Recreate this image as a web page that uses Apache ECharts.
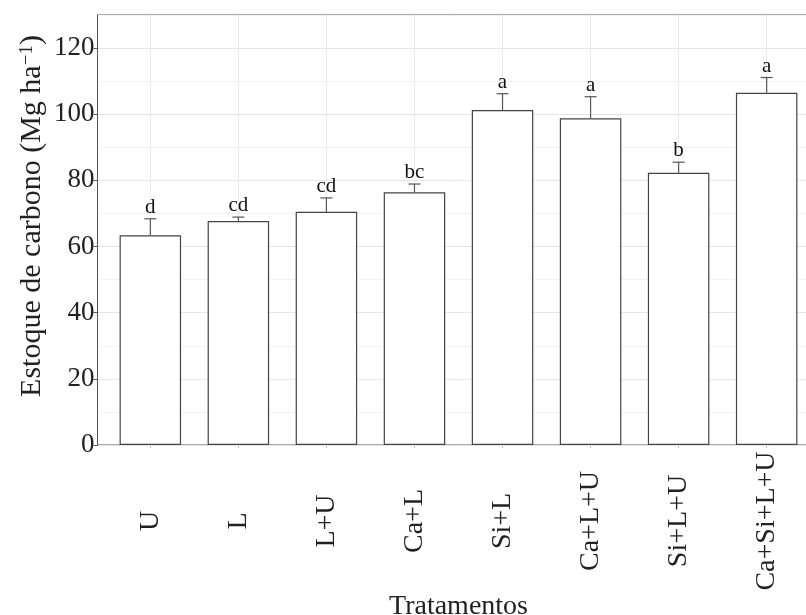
<!DOCTYPE html>
<html>
<head>
<meta charset="utf-8">
<script src="https://cdn.jsdelivr.net/npm/echarts@6/dist/echarts.min.js"></script>
<style>
html, body { margin: 0; padding: 0; background: #fff; }
#box { width: 806px; height: 615px; }
</style>
</head>
<body>
<div id="box"></div>
<script>
const categories = ['U', 'L', 'L+U', 'Ca+L', 'Si+L', 'Ca+L+U', 'Si+L+U', 'Ca+Si+L+U'];
const means = [63.4, 67.7, 70.5, 76.4, 101.3, 98.8, 82.3, 106.5];
const errors = [5.0, 1.2, 4.2, 2.5, 4.9, 6.5, 3.2, 4.6];
const letters = ['d', 'cd', 'cd', 'bc', 'a', 'a', 'b', 'a'];
const yTicks = [0, 20, 40, 60, 80, 100, 120];

const positions = categories.map((c, i) => i + 1);
const font = 'Liberation Serif';
const lineColor = '#555';

let chart = echarts.init(document.getElementById('box'));

let barData = means.map((m, i) => [positions[i], m]);
let errData = means.map((m, i) => [positions[i], m, m + errors[i]]);

// error bar (upper half only) + significance letter
function renderError(params, api) {
    let x = api.value(0);
    let p0 = api.coord([x, api.value(1)]);
    let p1 = api.coord([x, api.value(2)]);
    let cap = 6;
    let st = { stroke: lineColor, lineWidth: 1.2 };
    return {
        type: 'group',
        children: [
            { type: 'line', shape: { x1: p0[0], y1: p0[1], x2: p1[0], y2: p1[1] }, style: st },
            { type: 'line', shape: { x1: p1[0] - cap, y1: p1[1], x2: p1[0] + cap, y2: p1[1] }, style: st },
            {
                type: 'text', x: p1[0], y: p1[1] - 1,
                style: {
                    text: letters[params.dataIndex], fill: '#111',
                    font: '21px "Liberation Serif"', align: 'center', verticalAlign: 'bottom'
                }
            }
        ]
    };
}

let option = {
    animation: false,
    grid: {
        left: 97.5, top: 15, width: 722, height: 430,
        outerBoundsMode: 'none',
        containLabel: false,
        show: true, borderColor: lineColor, borderWidth: 1, backgroundColor: '#fff'
    },
    xAxis: {
        type: 'value',
        min: 0.4,
        max: 8.6,
        axisLine: { show: true, lineStyle: { color: lineColor, width: 1 } },
        axisTick: { show: true, customValues: positions, length: 3, lineStyle: { color: '#bbb' } },
        axisLabel: {
            customValues: positions,
            formatter: v => categories[Math.round(v) - 1],
            rotate: 90, align: 'center', verticalAlign: 'middle', margin: 76,
            fontFamily: font, fontSize: 28, color: '#222'
        },
        splitLine: { show: true, lineStyle: { color: '#ebebeb', width: 1 } },
        name: 'Tratamentos',
        nameLocation: 'middle',
        nameMoveOverlap: false,
        nameGap: 148,
        nameTextStyle: { fontFamily: font, fontSize: 28, color: '#222' }
    },
    yAxis: [
        {
            type: 'value',
            min: 0, max: 130,
            axisLine: { show: true, lineStyle: { color: lineColor, width: 1 } },
            axisTick: { show: true, customValues: yTicks, length: 4, lineStyle: { color: lineColor } },
            axisLabel: { customValues: yTicks, fontFamily: font, fontSize: 27, color: '#222', margin: 3 },
            splitLine: { show: true, lineStyle: { color: '#e6e6e6', width: 1 } },
            z: 2,
            name: '{t|Estoque de carbono (Mg ha}{s|−1}{t|)}',
            nameLocation: 'middle',
            nameMoveOverlap: false,
            nameGap: 50,
            nameTextStyle: {
                padding: [0, 0, 0, 28],
                rich: {
                    t: { fontFamily: font, fontSize: 30, color: '#222' },
                    s: { fontFamily: font, fontSize: 19, color: '#222', verticalAlign: 'top', lineHeight: 30 }
                }
            }
        },
        {
            type: 'value',
            min: 0, max: 130, interval: 10,
            position: 'right',
            axisLine: { show: false },
            axisTick: { show: false },
            axisLabel: { show: false },
            splitLine: { show: true, lineStyle: { color: '#f3f3f3', width: 1 } },
            z: 0
        }
    ],
    series: [
        {
            type: 'bar',
            data: barData,
            barWidth: 61.5,
            itemStyle: { color: '#fff', borderColor: '#444', borderWidth: 1.2 },
            z: 3
        },
        {
            type: 'custom',
            data: errData,
            renderItem: renderError,
            z: 4
        }
    ]
};
chart.setOption(option);
</script>
</body>
</html>
